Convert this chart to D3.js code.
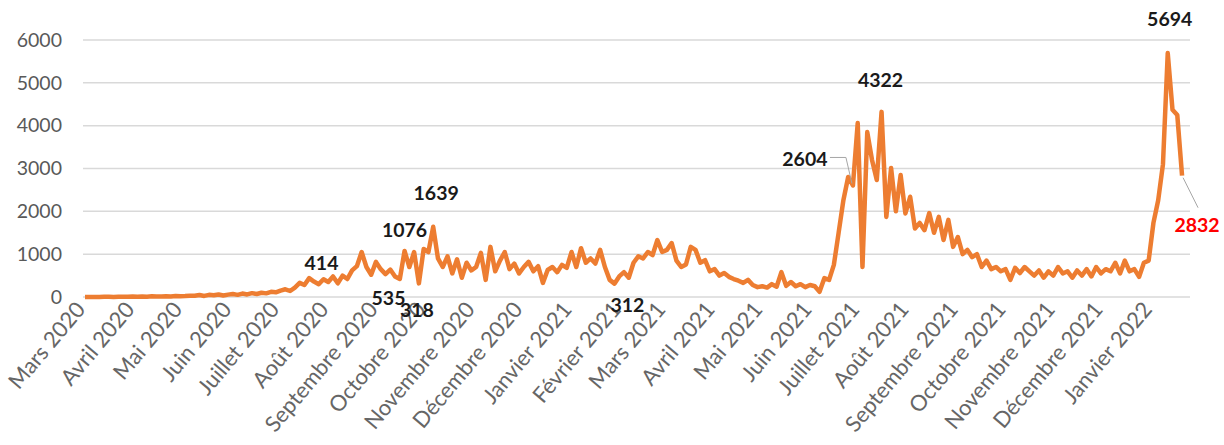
<!DOCTYPE html>
<html>
<head>
<meta charset="utf-8">
<script src="https://cdn.jsdelivr.net/npm/d3@7"></script>
<style>
  body { margin: 0; background: #fff; }
  svg { display: block; }
</style>
</head>
<body>
<script>
// serie : une valeur tous les 3 jours a partir du 1er mars 2020
const startDate = Date.UTC(2020, 2, 1);
const stepDays = 3;
const cases = [
  0, 0, 2, 0, 3, 5, 2, 4, 8, 5,
  10, 6, 12, 8, 15, 10, 14, 20, 12, 25,
  18, 22, 30, 28, 45, 25, 50, 40, 60, 35,
  55, 70, 50, 80, 60, 90, 70, 100, 85, 120,
  110, 150, 180, 140, 220, 330, 280, 440, 360, 300,
  414, 350, 480, 320, 500, 420, 620, 720, 1050, 700,
  520, 820, 650, 535, 640, 480, 420, 1076, 700, 1050,
  318, 1120, 1050, 1639, 900, 700, 950, 550, 880, 450,
  800, 620, 700, 1030, 400, 1170, 600, 850, 1050, 650,
  780, 550, 700, 820, 600, 720, 330, 630, 700, 580,
  750, 680, 1050, 700, 1140, 800, 900, 780, 1100, 700,
  400, 312, 480, 580, 450, 800, 950, 900, 1050, 980,
  1330, 1050, 1100, 1260, 850, 700, 760, 1170, 1100, 800,
  860, 600, 650, 500, 560, 470, 420, 380, 330, 400,
  280, 230, 250, 220, 300, 240, 580, 260, 350, 250,
  300, 230, 280, 250, 120, 440, 400, 750, 1500, 2260,
  2800, 2604, 4060, 700, 3850, 3200, 2730, 4322, 1870, 3010,
  2000, 2850, 1950, 2340, 1600, 1730, 1560, 1960, 1500, 1870,
  1330, 1800, 1170, 1400, 1000, 1100, 930, 1000, 700, 850,
  650, 700, 600, 650, 400, 680, 560, 700, 600, 500,
  620, 450, 600, 500, 700, 550, 600, 450, 620, 500,
  650, 480, 700, 550, 650, 600, 800, 550, 850, 600,
  650, 470, 800, 850, 1730, 2260, 3100, 5694, 4370, 4250,
  2832
];

const monthLabels = ["Mars 2020", "Avril 2020", "Mai 2020", "Juin 2020", "Juillet 2020", "Août 2020",
  "Septembre 2020", "Octobre 2020", "Novembre 2020", "Décembre 2020", "Janvier 2021", "Février 2021",
  "Mars 2021", "Avril 2021", "Mai 2021", "Juin 2021", "Juillet 2021", "Août 2021", "Septembre 2021",
  "Octobre 2021", "Novembre 2021", "Décembre 2021", "Janvier 2022"];

const yTicks = [0, 1000, 2000, 3000, 4000, 5000, 6000];

// points annotes (index dans la serie)
const labelIndex = [50, 63, 70, 67, 73, 111, 161, 167, 227, 230];

var width = 1224, height = 445;

var svg = d3.select("body")
  .append("svg")
  .attr("width", width)
  .attr("height", height)
  .style("font-family", "Lato, 'Liberation Sans', sans-serif");

var data = cases.map(function(v, i) {
  return { date: d3.utcDay.offset(new Date(startDate), i * stepDays), value: v };
});

var x = d3.scaleUtc()
  .domain([new Date(startDate), d3.utcDay.offset(new Date(startDate), 695)])
  .range([85, 1190]);

var y = d3.scaleLinear()
  .domain([0, 6000])
  .range([297, 40]);

// grille
svg.append("g")
  .selectAll("line")
  .data(yTicks)
  .enter().append("line")
  .attr("x1", 83)
  .attr("x2", 1190)
  .attr("y1", function(d) { return y(d); })
  .attr("y2", function(d) { return y(d); })
  .attr("stroke", "#d9d9d9")
  .attr("stroke-width", 1.5);

// axe y
var yAxis = svg.append("g")
  .attr("transform", "translate(62,0)")
  .call(d3.axisLeft(y).tickValues(yTicks).tickSize(0).tickPadding(0).tickFormat(d3.format("d")));
yAxis.select(".domain").remove();
yAxis.selectAll("text")
  .attr("fill", "#595959")
  .style("font-size", "19.5px")
  .style("font-family", "Lato, 'Liberation Sans', sans-serif");

// axe x : un libelle par mois
var monthDates = monthLabels.map(function(m, k) { return d3.utcMonth.offset(new Date(startDate), k); });
var xAxis = svg.append("g")
  .attr("transform", "translate(0,297)")
  .call(d3.axisBottom(x).tickValues(monthDates).tickSize(0).tickPadding(0)
    .tickFormat(function(d, k) { return monthLabels[k]; }));
xAxis.select(".domain").remove();
xAxis.selectAll("text")
  .attr("fill", "#666666")
  .style("font-size", "22px")
  .style("font-family", "Lato, 'Liberation Sans', sans-serif")
  .attr("text-anchor", "end")
  .attr("dy", "0.35em")
  .attr("transform", "translate(-5,8) rotate(-50)");

// courbe
var line = d3.line()
  .x(function(d) { return x(d.date); })
  .y(function(d) { return y(d.value); });

svg.append("path")
  .datum(data)
  .attr("d", line)
  .attr("fill", "none")
  .attr("stroke", "#ED7D31")
  .attr("stroke-width", 4.5)
  .attr("stroke-linejoin", "round");

// decalage des etiquettes (dx, dy) par rapport au point
var labelOffset = {
  50: [-2, -17], 63: [3, 23], 70: [-2, 26], 67: [0, -21], 73: [3, -34],
  111: [13, 21], 161: [-48, -27], 167: [-1, -32], 227: [2, -35], 230: [15, 49]
};

// traits de rappel
var p = data[161];
svg.append("polyline")
  .attr("points", [[x(p.date) - 23, y(p.value) - 28], [x(p.date) - 7, y(p.value) - 28], [x(p.date) - 1, y(p.value) - 2]].join(" "))
  .attr("fill", "none")
  .attr("stroke", "#a6a6a6")
  .attr("stroke-width", 1);
var q = data[230];
svg.append("line")
  .attr("x1", x(q.date) + 1)
  .attr("y1", y(q.value) + 2)
  .attr("x2", x(q.date) + 16)
  .attr("y2", y(q.value) + 32)
  .attr("stroke", "#a6a6a6")
  .attr("stroke-width", 1);

svg.append("g")
  .selectAll("text")
  .data(labelIndex)
  .enter().append("text")
  .attr("x", function(i) { return x(data[i].date) + labelOffset[i][0]; })
  .attr("y", function(i) { return y(data[i].value) + labelOffset[i][1]; })
  .attr("text-anchor", "middle")
  .attr("dominant-baseline", "central")
  .style("font-size", "19.5px")
  .style("font-weight", "bold")
  .attr("fill", function(i) { return i == 230 ? "#ff0000" : "#1a1a1a"; })
  .text(function(i) { return data[i].value; });
</script>
</body>
</html>
